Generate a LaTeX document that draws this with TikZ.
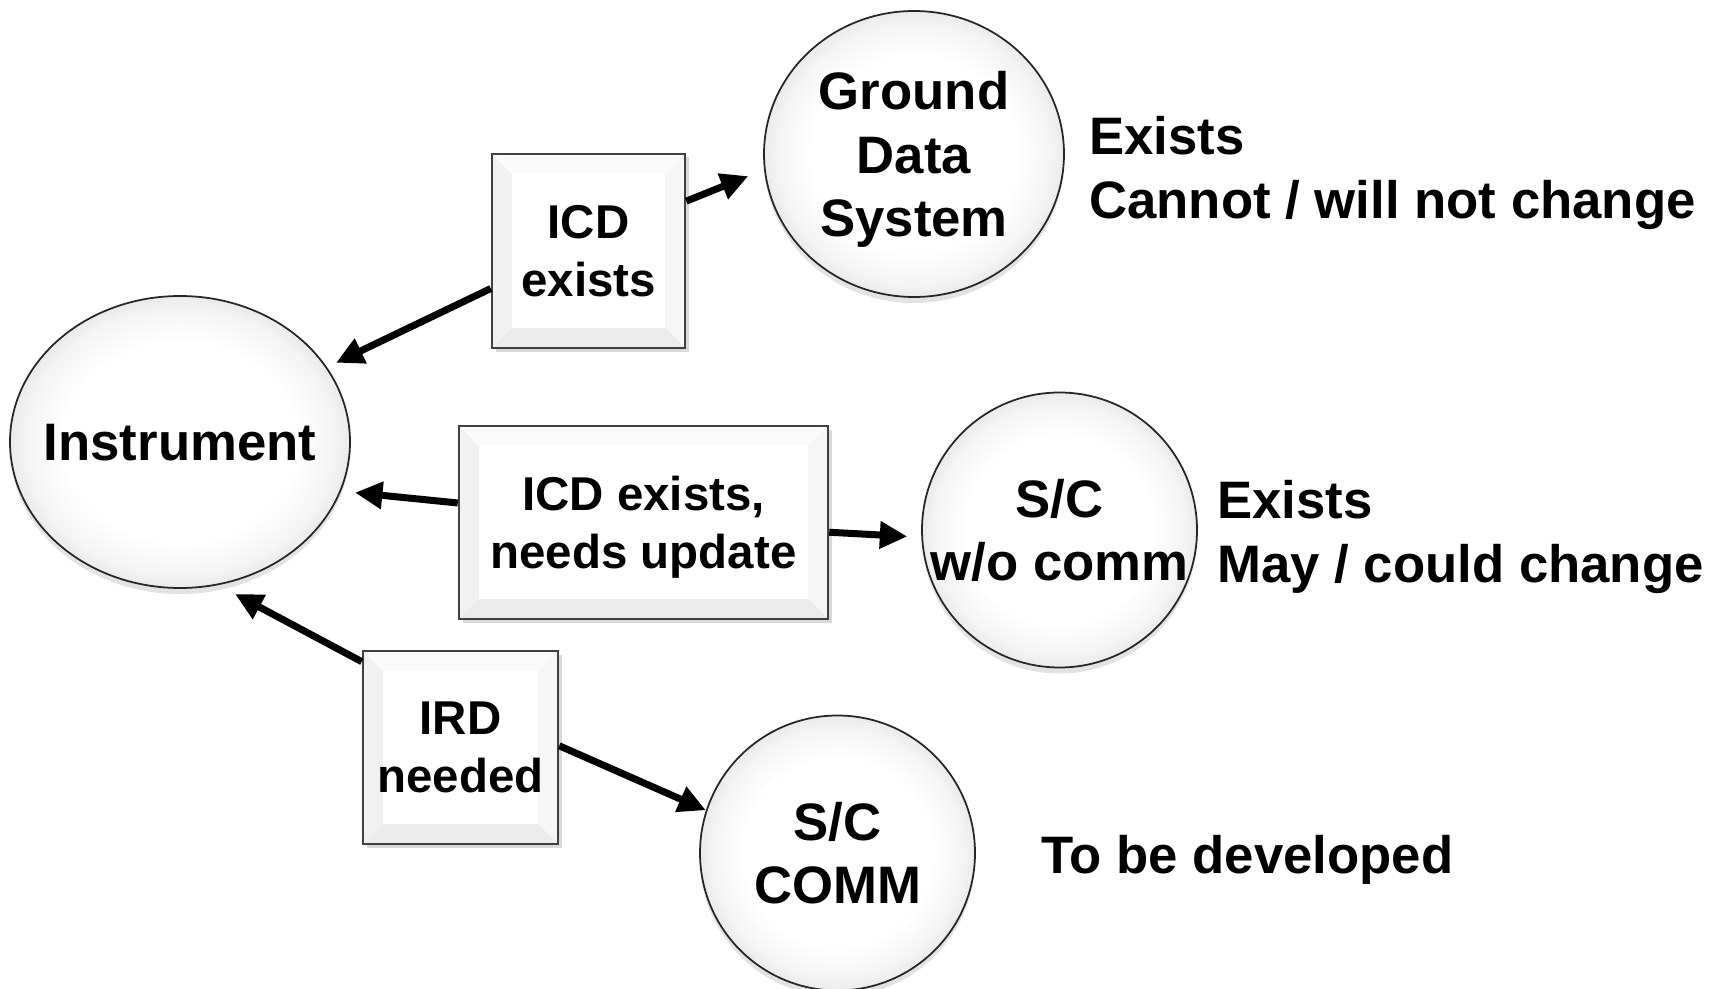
\documentclass[tikz,border=0pt]{standalone}
\usepackage{fontspec}
\setmainfont{Liberation Sans}
\usetikzlibrary{shapes.geometric,shadows,arrows.meta}
\newcommand{\bev}{0.4cm}
\pgfdeclareradialshading{bubbleshade}{\pgfpoint{0bp}{0bp}}{%
  color(0bp)=(white); color(17bp)=(white); color(23bp)=(gray!9); color(25bp)=(gray!16); color(50bp)=(gray!16)}
\tikzset{
  bubble/.style={draw=black!85, line width=1pt, inner sep=0pt, align=center,
    shading=bubbleshade, text depth=0pt,
    font=\fontsize{30}{36}\selectfont\bfseries,
    drop shadow={shadow xshift=0pt, shadow yshift=-0.12cm, opacity=0.22}},
  docbox/.style={draw=black!75, line width=1.4pt, fill=white, align=center, text depth=0pt,
    font=\fontsize{27}{33}\selectfont\bfseries,
    drop shadow={shadow xshift=0.07cm, shadow yshift=-0.07cm, opacity=0.3},
    path picture={
      \fill[gray!11] (path picture bounding box.south west) -- (path picture bounding box.north west)
        -- ([shift={(\bev,-\bev)}]path picture bounding box.north west) -- ([shift={(\bev,\bev)}]path picture bounding box.south west) -- cycle;
      \fill[gray!4] (path picture bounding box.north west) -- (path picture bounding box.north east)
        -- ([shift={(-\bev,-\bev)}]path picture bounding box.north east) -- ([shift={(\bev,-\bev)}]path picture bounding box.north west) -- cycle;
      \fill[gray!7] (path picture bounding box.north east) -- (path picture bounding box.south east)
        -- ([shift={(-\bev,\bev)}]path picture bounding box.south east) -- ([shift={(-\bev,-\bev)}]path picture bounding box.north east) -- cycle;
      \fill[gray!15] (path picture bounding box.south west) -- (path picture bounding box.south east)
        -- ([shift={(-\bev,\bev)}]path picture bounding box.south east) -- ([shift={(\bev,\bev)}]path picture bounding box.south west) -- cycle;
    }},
  note/.style={anchor=west, inner sep=0pt, align=left, font=\fontsize{30}{36}\selectfont\bfseries},
  arr/.style={-{Triangle[length=0.55cm,width=0.52cm]}, line width=0.14cm, shorten >=0.28cm}
}
\begin{document}
\begin{tikzpicture}
    \useasboundingbox (0,0) rectangle (34.5,19.76);
    \node[bubble, ellipse, minimum width=6.8cm, minimum height=5.84cm] (instr) at (3.6,10.92) {\makebox[0pt]{Instrument}};
    \node[bubble, ellipse, minimum width=6.0cm, minimum height=5.72cm] (gds) at (18.28,16.68) {Ground\\Data\\System};
    \node[bubble, circle, minimum size=5.5cm] (scnc) at (21.19,9.16) {S/C\\\makebox[0pt]{w/o comm}};
    \node[bubble, circle, minimum size=5.5cm] (comm) at (16.75,2.7) {S/C\\COMM};
    \node[docbox, minimum width=3.86cm, minimum height=3.88cm] (icd) at (11.77,14.74) {ICD\\exists};
    \node[docbox, minimum width=7.38cm, minimum height=3.86cm] (upd) at (12.87,9.31) {ICD exists,\\needs update};
    \node[docbox, minimum width=3.9cm, minimum height=3.86cm] (ird) at (9.21,4.81) {IRD\\needed};
    \node[note] (gdsnote) at (21.78,16.3) {Exists\\Cannot / will not change};
    \node[note] (scncnote) at (24.34,9.02) {Exists\\May / could change};
    \node[note] (commnote) at (20.82,2.56) {To be developed};
    \draw[arr, shorten >=0.2cm] (icd.201) -- (instr.27);
    \draw[arr, shorten >=0.34cm] (icd.27) -- (gds.186);
    \draw[arr] (upd.174) -- (instr.-17);
    \draw[arr] (upd.-3) -- (scnc.183);
    \draw[arr, shorten >=0.38cm] (ird.139) -- (instr.-75);
    \draw[arr, shorten >=0pt] (ird.1) -- (comm.162);
\end{tikzpicture}
\end{document}
